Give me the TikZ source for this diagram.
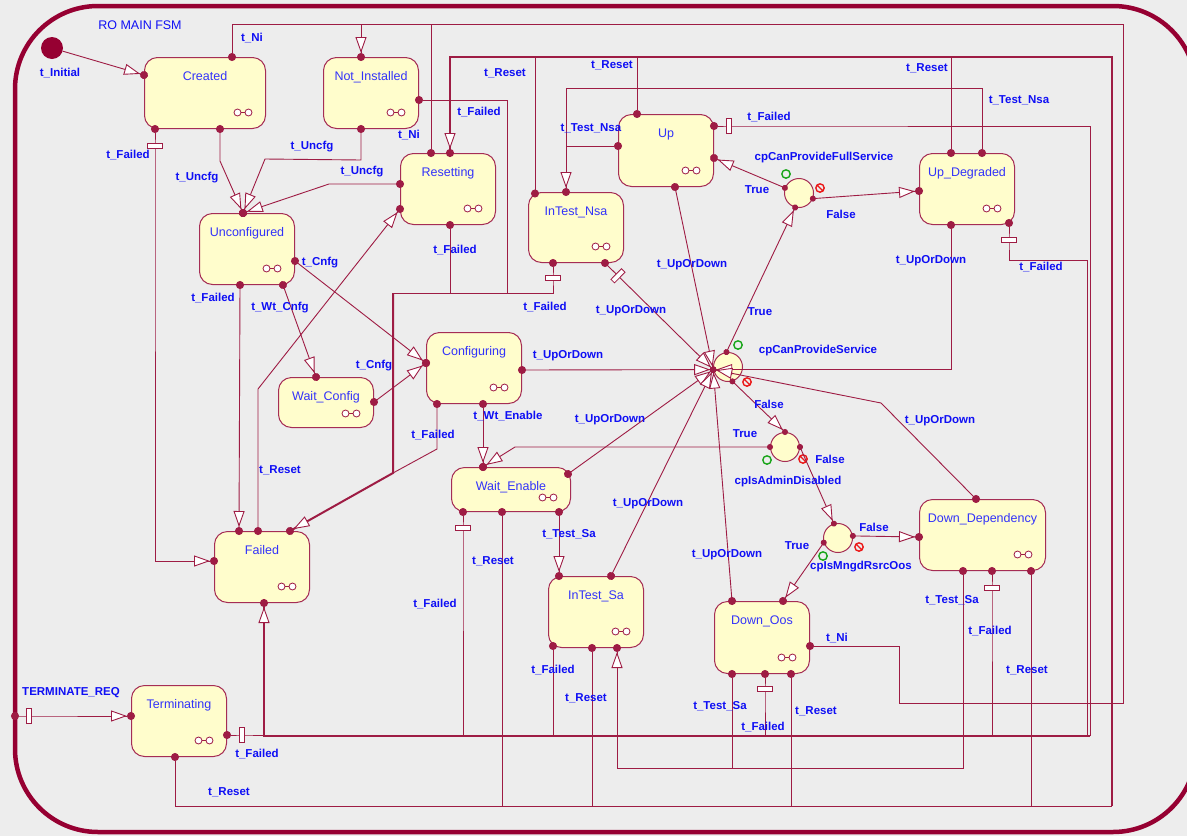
\documentclass[tikz,border=0pt]{standalone}
\usepackage{fontspec}
\setmainfont{Liberation Sans}
\usepackage{tikz}
\usetikzlibrary{arrows.meta}
\definecolor{rim}{RGB}{150, 0, 50}
\definecolor{boxline}{RGB}{165, 45, 85}
\definecolor{wirered}{RGB}{158, 28, 68}
\definecolor{cellfill}{RGB}{255, 253, 204}
\definecolor{ink}{RGB}{15, 15, 245}
\definecolor{nameblue}{RGB}{50, 50, 250}
\definecolor{paper}{RGB}{237, 237, 237}
\definecolor{okgreen}{RGB}{25, 165, 25}
\definecolor{nored}{RGB}{235, 25, 25}

\tikzset{
  iconlift/.initial=16pt,
  state/.style={rectangle, rounded corners=13pt, draw=boxline, fill=cellfill,
    line width=1pt, anchor=north west, inner sep=0pt, text=nameblue,
    font=\fontsize{12.5}{14}\selectfont, minimum width=95pt,
    text height=23pt, text depth=48pt,
    path picture={\draw[wirered, line width=0.8pt, fill=white]
      ([shift={(-28pt,\pgfkeysvalueof{/tikz/iconlift})}]path picture bounding box.south east) circle (3.5pt)
      ++(3.5pt,0) -- ++(4pt,0) ++(3.5pt,0) circle (3.5pt);}},
  choice/.style={circle, draw=boxline, fill=cellfill, line width=1pt, minimum size=29pt, inner sep=0pt},
  init/.style={circle, fill=rim, minimum size=22pt, inner sep=0pt},
  wire/.style={draw=wirered, line width=0.9pt},
  bus/.style={line width=2pt},
  link/.style={wire, {Circle[length=8pt]}-{Triangle[open, fill=white, length=16pt, width=11pt, line width=0.9pt] Circle[length=8pt]}, shorten <=-4pt, shorten >=-4pt},
  feed/.style={wire, {Circle[length=8pt]}-, shorten <=-4pt},
  sink/.style={wire, -{Triangle[open, fill=white, length=16pt, width=11pt, line width=0.9pt] Circle[length=8pt]}, shorten >=-4pt},
  tocp/.style={wire, {Circle[length=8pt]}-{Triangle[open, fill=white, length=16pt, width=11pt, line width=0.9pt] Circle[length=6pt]}, shorten <=-4pt, shorten >=-3pt},
  fromcp/.style={wire, {Circle[length=6pt]}-{Triangle[open, fill=white, length=16pt, width=11pt, line width=0.9pt] Circle[length=8pt]}, shorten <=-3pt, shorten >=-4pt},
  cc/.style={wire, {Circle[length=6pt]}-{Triangle[open, fill=white, length=16pt, width=11pt, line width=0.9pt] Circle[length=6pt]}, shorten <=-3pt, shorten >=-3pt},
  tick/.style={rectangle, draw=wirered, fill=white, line width=0.8pt, minimum width=5pt, minimum height=15pt, inner sep=0pt},
  okmark/.style={draw=okgreen, line width=1.4pt},
  nomark/.style={draw=nored, line width=1.4pt},
  lbl/.style={text=ink, font=\bfseries\fontsize{11.5}{13}\selectfont, inner sep=0pt}
}

\begin{document}
\begin{tikzpicture}[x=1pt, y=-1pt]
  \useasboundingbox (0,0) rectangle (1187,836);
  \fill[paper] (0,0) rectangle (1187,836);
  \clip (0,0) rectangle (1187,836);
  \draw[rim, line width=4.5pt, rounded corners=83pt] (15,6) rectangle (1196,832);
  \node[lbl, font=\fontsize{12.5}{14}\selectfont] (title) at (140,25) {RO MAIN FSM};

  % states
  \node[init] (init) at (52,48) {};
  \node[state, minimum width=121pt] (created) at (144,57) {Created};
  \node[state] (notinst) at (323,57) {Not\_Installed};
  \node[state] (resetting) at (400,153) {Resetting};
  \node[state] (unconf) at (199,213) {Unconfigured};
  \node[state, text depth=49pt] (up) at (618,114) {Up};
  \node[state] (updeg) at (919,153) {Up\_Degraded};
  \node[state, text depth=47pt] (intestnsa) at (528,192) {InTest\_Nsa};
  \node[state] (configuring) at (426,332) {Configuring};
  \node[state, text depth=27pt, iconlift=14pt] (waitconfig) at (278,377) {Wait\_Config};
  \node[state, minimum width=119pt, text depth=21pt, iconlift=14pt] (waitenable) at (451,467) {Wait\_Enable};
  \node[state] (failed) at (214,531) {Failed};
  \node[state] (intestsa) at (548,576) {InTest\_Sa};
  \node[state, text depth=49pt] (downoos) at (714,601) {Down\_Oos};
  \node[state, minimum width=126pt] (downdep) at (919,499) {Down\_Dependency};
  \node[state] (terminating) at (131,685) {Terminating};

  % choice points
  \node[choice] (cpfull) at (799,193) {};
  \node[choice] (cpserv) at (728,367) {};
  \node[choice] (cpadmin) at (785,447) {};
  \node[choice] (cposs) at (838,538) {};
  \draw[okmark] ([shift={(-13,-19)}]cpfull.center) circle (4.2pt);
  \draw[nomark] ([shift={(21,-5)}]cpfull.center) circle (4.2pt) +(-2.9pt,2.9pt) -- +(2.9pt,-2.9pt);
  \draw[okmark] ([shift={(10,-22)}]cpserv.center) circle (4.2pt);
  \draw[nomark] ([shift={(19,15)}]cpserv.center) circle (4.2pt) +(-2.9pt,2.9pt) -- +(2.9pt,-2.9pt);
  \draw[okmark] ([shift={(-18,13)}]cpadmin.center) circle (4.2pt);
  \draw[nomark] ([shift={(18,12)}]cpadmin.center) circle (4.2pt) +(-2.9pt,2.9pt) -- +(2.9pt,-2.9pt);
  \draw[okmark] ([shift={(-15,18)}]cposs.center) circle (4.2pt);
  \draw[nomark] ([shift={(21,9)}]cposs.center) circle (4.2pt) +(-2.9pt,2.9pt) -- +(2.9pt,-2.9pt);

  % bus corners
  \coordinate (ni-in) at (361,24);
  \coordinate (ni-b) at (899,703);
  \coordinate (ni-r) at (1123,24);
  \coordinate (fb-t) at (393,293);
  \coordinate (fb-j) at (393,473);
  \coordinate (tn-c) at (566,88);
  \coordinate (rs-in) at (450,57);
  \coordinate (rs-c) at (1112,806);
  \coordinate (fl-in) at (264,736);
  \coordinate (fl-c) at (1090,736);
  \coordinate (ts-in) at (617,768);
  \coordinate (treq) at (15,716);

  % t_Ni
  \draw[feed] ([xshift=88pt]created.north west) |- (ni-in);
  \draw[feed] ([xshift=31pt]resetting.north west) |- (ni-in);
  \draw[feed] ([yshift=-45pt]downoos.north east) -| (ni-b) -| (ni-r) -- (ni-in);
  \draw[sink] (ni-in) -- ([xshift=38pt]notinst.north west);

  \draw[sink] (init) -- ([yshift=-18pt]created.north west);
  \draw[link] ([xshift=11pt]created.south west) -- ++(0,17) node[tick, pos=1, sloped] (k1) {} |- ([yshift=-30pt]failed.north west);
  \draw[link] ([xshift=76pt]created.south west) -- ++(0,32) -- ([xshift=44pt]unconf.north west);
  \draw[link] ([xshift=38pt]notinst.south west) -- ++(0,31) -- (265,159) -- ([xshift=44pt]unconf.north west);
  \draw[link] ([yshift=-31pt]resetting.north west) -- (329,184) -- ([xshift=44pt]unconf.north west);
  \draw[link] ([yshift=-48pt]unconf.north east) -- ([yshift=-31pt]configuring.north west);
  \draw[link] ([xshift=41pt]unconf.south west) -- ([xshift=25pt]failed.north west);
  \draw[link] ([xshift=84pt]unconf.south west) -- ([xshift=38pt]waitconfig.north west);
  \draw[link] ([yshift=-25pt]waitconfig.north east) -- ([yshift=-31pt]configuring.north west);
  \draw[link] ([xshift=44pt]failed.north west) -- (258,389) -- ([yshift=-56pt]resetting.north west);
  \draw[link] ([xshift=57pt]configuring.south west) -- ([xshift=32pt]waitenable.north west);
  \draw[link] ([xshift=108pt]waitenable.south west) -- ([xshift=11pt]intestsa.north west);

  % t_Failed into Failed top
  \draw[feed] ([yshift=-43pt]notinst.north east) -- (507,100) |- (fb-t);
  \draw[feed] ([xshift=50pt]resetting.south west) |- (fb-t);
  \draw[feed] ([xshift=25pt]intestnsa.south west) -- ++(0,15) node[tick, pos=1, sloped] (k2) {} |- (fb-t);
  \draw[feed] ([xshift=11pt]configuring.south west) -- ++(0,45) -- (fb-j);
  \draw[sink, bus] (fb-t) -- (fb-j) -- ([xshift=76pt]failed.north west);

  % t_Test_Nsa
  \draw[feed] ([xshift=63pt]updeg.north west) |- (tn-c);
  \draw[feed] ([yshift=-32pt]up.north west) -| (tn-c);
  \draw[sink] (tn-c) -- ([xshift=38pt]intestnsa.north west);

  % t_Reset
  \draw[feed] ([shift={(7,1.5)}]intestnsa.north west) |- (rs-in);
  \draw[feed] ([xshift=19pt]up.north west) |- (rs-in);
  \draw[feed] ([xshift=32pt]updeg.north west) |- (rs-in);
  \draw[feed] ([xshift=44pt]terminating.south west) |- (rs-c);
  \draw[feed] ([xshift=51pt]waitenable.south west) |- (rs-c);
  \draw[feed] ([xshift=44pt]intestsa.south west) |- (rs-c);
  \draw[feed] ([xshift=77pt]downoos.south west) |- (rs-c);
  \draw[feed] ([xshift=112pt]downdep.south west) |- (rs-c);
  \draw[sink, bus] (rs-c) |- (rs-in) -- ([xshift=50pt]resetting.north west);

  % t_Failed into Failed bottom
  \draw[feed] ([yshift=-12pt]up.north east) -- ++(15,0) node[tick, pos=1, sloped] (k3) {} -| (fl-c);
  \draw[feed] ([shift={(-6,-2)}]updeg.south east) -- ++(0,17) node[tick, pos=1, sloped] (k4) {} -- ++(0,20) -| ([xshift=-3pt]fl-c);
  \draw[feed] ([yshift=-50pt]terminating.north east) -- ++(15,0) node[tick, pos=1, sloped] (k5) {} -| (fl-in);
  \draw[feed] ([xshift=12pt]waitenable.south west) -- ++(0,16) node[tick, pos=1, sloped] (k6) {} |- (fl-in);
  \draw[feed] ([shift={(5,-2)}]intestsa.south west) |- (fl-in);
  \draw[feed] ([xshift=51pt]downoos.south west) -- ++(0,15) node[tick, pos=1, sloped] (k7) {} |- (fl-in);
  \draw[feed] ([xshift=73pt]downdep.south west) -- ++(0,17) node[tick, pos=1, sloped] (k8) {} |- (fl-in);
  \draw[sink, bus] (fl-c) -- (fl-in) -- ([xshift=50pt]failed.south west);

  % t_Test_Sa
  \draw[feed] ([xshift=18pt]downoos.south west) |- (ts-in);
  \draw[feed] ([xshift=44pt]downdep.south west) |- (ts-in);
  \draw[sink] (ts-in) -- ([xshift=69pt]intestsa.south west);

  % t_UpOrDown
  \draw[tocp] ([yshift=-38pt]configuring.north east) -- (cpserv.190);
  \draw[tocp] ([xshift=77pt]intestnsa.south west) -- node[tick, pos=0.12, sloped] (k9) {} (cpserv.190);
  \draw[tocp] ([xshift=57pt]up.south west) -- (cpserv.190);
  \draw[tocp] ([xshift=32pt]updeg.south west) |- (cpserv.190);
  \draw[tocp] ([shift={(117,7)}]waitenable.north west) -- (cpserv.190);
  \draw[tocp] ([xshift=63pt]intestsa.north west) -- (cpserv.190);
  \draw[tocp] ([xshift=18pt]downoos.north west) -- (cpserv.190);
  \draw[tocp] ([xshift=57pt]downdep.north west) -- (881,403) -- (cpserv.190);

  % choices
  \draw[cc] (cpserv.96) -- (cpfull.255);
  \draw[fromcp] (cpfull.160) -- ([yshift=-44pt]up.north east);
  \draw[fromcp] (cpfull.338) -- ([yshift=-38pt]updeg.north west);
  \draw[cc] (cpserv.287) -- (cpadmin.north);
  \draw[fromcp] (cpadmin.west) -- (515,447) -- ([xshift=32pt]waitenable.north west);
  \draw[cc] (cpadmin.east) -- (cposs.106);
  \draw[fromcp] (cposs.8) -- ([yshift=-38pt]downdep.north west);
  \draw[fromcp] (cposs.198) -- ([xshift=69pt]downoos.north west);
  \draw[link] (treq) -- ++(14,0) node[tick, pos=1, sloped] (k10) {} -- ([yshift=-31pt]terminating.north west);

  % labels
  \node[lbl] (t-init) at (60,73) {t\_Initial};
  \node[lbl] (t-ni1) at (252,38) {t\_Ni};
  \node[lbl] (t-fail1) at (128,155) {t\_Failed};
  \node[lbl] (t-uncfg1) at (197,178) {t\_Uncfg};
  \node[lbl] (t-uncfg2) at (312,147) {t\_Uncfg};
  \node[lbl] (t-ni2) at (409,135) {t\_Ni};
  \node[lbl] (t-uncfg3) at (362,172) {t\_Uncfg};
  \node[lbl] (t-cnfg1) at (320,263) {t\_Cnfg};
  \node[lbl] (t-fail2) at (213,298) {t\_Failed};
  \node[lbl] (t-wtcnfg) at (280,308) {t\_Wt\_Cnfg};
  \node[lbl] (t-cnfg2) at (374,366) {t\_Cnfg};
  \node[lbl] (t-reset1) at (280,470) {t\_Reset};
  \node[lbl] (t-fail3) at (433,435) {t\_Failed};
  \node[lbl] (t-reset2) at (505,73) {t\_Reset};
  \node[lbl] (t-fail4) at (479,112) {t\_Failed};
  \node[lbl] (t-fail5) at (455,250) {t\_Failed};
  \node[lbl] (t-reset3) at (612,65) {t\_Reset};
  \node[lbl] (t-tnsa1) at (591,128) {t\_Test\_Nsa};
  \node[lbl] (t-fail6) at (769,117) {t\_Failed};
  \node[lbl] (t-uod1) at (692,265) {t\_UpOrDown};
  \node[lbl] (t-fail7) at (545,307) {t\_Failed};
  \node[lbl] (t-uod2) at (631,311) {t\_UpOrDown};
  \node[lbl] (t-true1) at (760,312) {True};
  \node[lbl] (c-serv) at (818,351) {cpCanProvideService};
  \node[lbl] (t-uod3) at (568,356) {t\_UpOrDown};
  \node[lbl] (t-wten) at (508,416) {t\_Wt\_Enable};
  \node[lbl] (t-uod4) at (610,420) {t\_UpOrDown};
  \node[lbl] (t-false1) at (769,404) {False};
  \node[lbl] (t-true2) at (745,434) {True};
  \node[lbl] (c-admin) at (788,482) {cpIsAdminDisabled};
  \node[lbl] (t-false2) at (830,459) {False};
  \node[lbl] (t-uod5) at (648,504) {t\_UpOrDown};
  \node[lbl] (t-tsa1) at (569,534) {t\_Test\_Sa};
  \node[lbl] (t-reset4) at (493,561) {t\_Reset};
  \node[lbl] (t-uod6) at (727,555) {t\_UpOrDown};
  \node[lbl] (t-true3) at (797,546) {True};
  \node[lbl] (t-uod7) at (940,421) {t\_UpOrDown};
  \node[lbl] (t-false3) at (874,527) {False};
  \node[lbl] (c-oos) at (861,567) {cpIsMngdRsrcOos};
  \node[lbl] (c-full) at (824,158) {cpCanProvideFullService};
  \node[lbl] (t-true4) at (757,190) {True};
  \node[lbl] (t-false4) at (841,214) {False};
  \node[lbl] (t-reset5) at (927,68) {t\_Reset};
  \node[lbl] (t-tnsa2) at (1019,100) {t\_Test\_Nsa};
  \node[lbl] (t-uod8) at (931,261) {t\_UpOrDown};
  \node[lbl] (t-fail8) at (1041,267) {t\_Failed};
  \node[lbl] (t-fail9) at (435,604) {t\_Failed};
  \node[lbl] (t-fail10) at (553,670) {t\_Failed};
  \node[lbl] (t-reset6) at (586,698) {t\_Reset};
  \node[lbl] (t-tsa2) at (720,706) {t\_Test\_Sa};
  \node[lbl] (t-fail11) at (763,727) {t\_Failed};
  \node[lbl] (t-reset7) at (816,711) {t\_Reset};
  \node[lbl] (t-ni3) at (837,638) {t\_Ni};
  \node[lbl] (t-tsa3) at (952,600) {t\_Test\_Sa};
  \node[lbl] (t-fail12) at (990,631) {t\_Failed};
  \node[lbl] (t-reset8) at (1027,670) {t\_Reset};
  \node[lbl] (t-treq) at (71,693) {TERMINATE\_REQ};
  \node[lbl] (t-fail13) at (257,754) {t\_Failed};
  \node[lbl] (t-reset9) at (229,792) {t\_Reset};
\end{tikzpicture}
\end{document}
